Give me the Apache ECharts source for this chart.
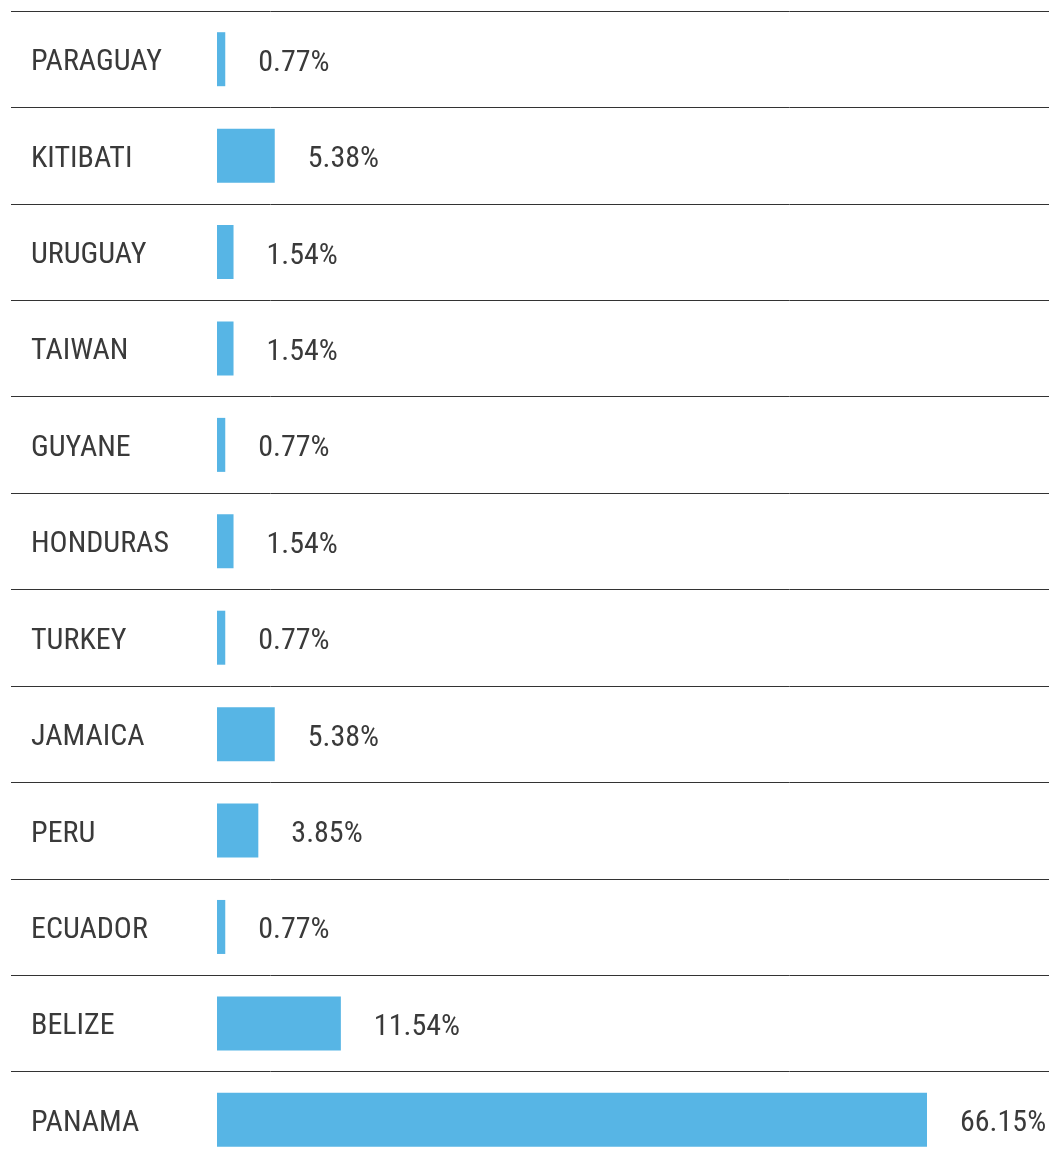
<!DOCTYPE html>
<html>
<head>
<meta charset="utf-8">
<script src="https://cdn.jsdelivr.net/npm/echarts@6/dist/echarts.min.js"></script>
<style>html,body{margin:0;padding:0;background:#fff;overflow:hidden;}#c{width:1049px;height:1168px;}</style>
</head>
<body>
<div id="c"></div>
<script>
const categories = ['PARAGUAY','KITIBATI','URUGUAY','TAIWAN','GUYANE','HONDURAS','TURKEY','JAMAICA','PERU','ECUADOR','BELIZE','PANAMA'];
const shares = [0.77, 5.38, 1.54, 1.54, 0.77, 1.54, 0.77, 5.38, 3.85, 0.77, 11.54, 66.15];

const font = '"Liberation Sans Narrow", "Arial Narrow", "Roboto Condensed", Roboto, sans-serif';
const chart = echarts.init(document.getElementById('c'), null, {renderer: 'canvas'});
chart.setOption({
  animation: false,
  backgroundColor: '#ffffff',
  grid: [
    {left: 11, right: 0, top: 11, bottom: 0, containLabel: false},
    {left: 217, right: 122, top: 11, bottom: 0, containLabel: false}
  ],
  xAxis: [
    {type: 'value', gridIndex: 0, show: false, min: 0, max: 1},
    {type: 'value', gridIndex: 1, show: false, min: 0, max: 66.15}
  ],
  yAxis: [
    {
      type: 'category', gridIndex: 0, inverse: true, data: categories,
      axisLine: {show: false}, axisTick: {show: false},
      splitLine: {show: true, lineStyle: {color: '#333333', width: 1}},
      axisLabel: {
        inside: true, margin: 20,
        formatter: v => '{t|' + v + '}',
        rich: {t: {color: '#3a3a3a', fontSize: 30, fontFamily: font, padding: [7, 0, 0, 0]}}
      }
    },
    {
      type: 'category', gridIndex: 1, inverse: true, data: categories, show: false
    }
  ],
  series: [{
    type: 'bar',
    xAxisIndex: 1, yAxisIndex: 1,
    data: shares,
    barWidth: 54,
    itemStyle: {color: '#57b5e5'},
    label: {
      show: true, position: 'right', distance: 33, offset: [0, 4],
      color: '#3a3a3a', fontSize: 30, fontFamily: font,
      formatter: p => p.value.toFixed(2) + '%'
    }
  }]
});
</script>
</body>
</html>
